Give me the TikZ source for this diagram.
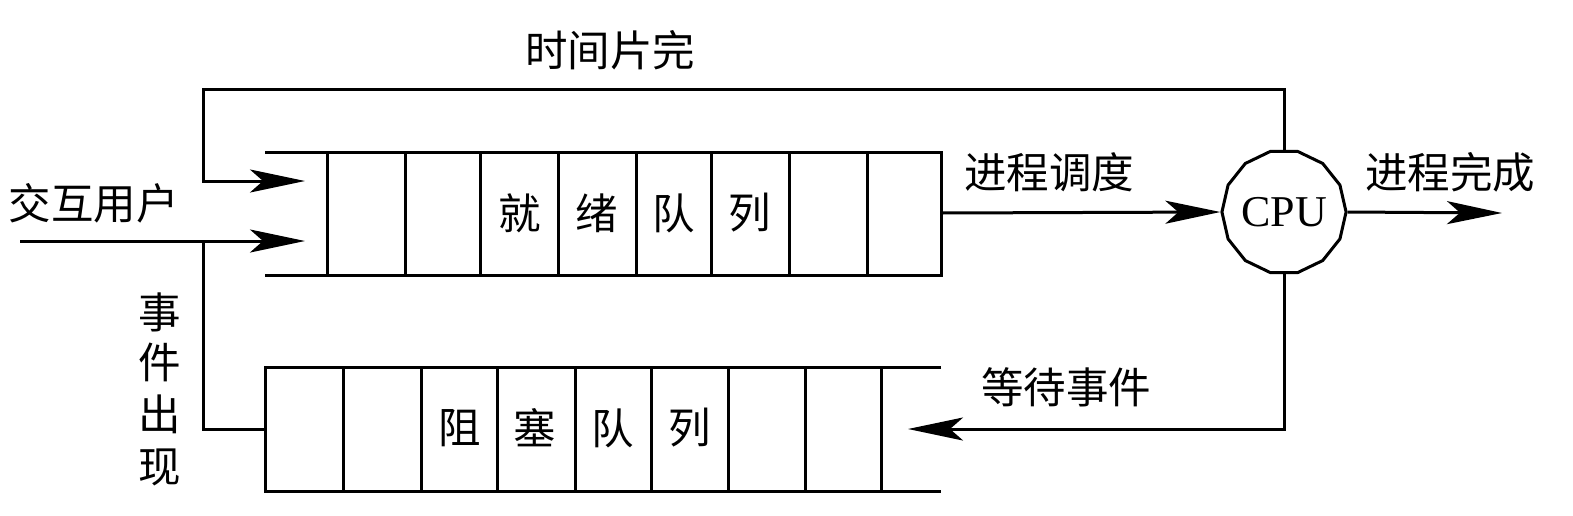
\documentclass[tikz,border=0pt]{standalone}
\usepackage{fontspec}
\setmainfont{Liberation Serif}
\newfontfamily\cjk{Noto Sans CJK SC}
\usetikzlibrary{arrows.meta,shapes.geometric}
\begin{document}
\begin{tikzpicture}[x=1pt,y=-1pt,line width=3pt,
  arr/.style={-{Stealth[length=55pt,width=23pt,inset=13pt]}},
  lbl/.style={inner sep=0pt,font=\cjk\fontsize{42.5}{42.5}\selectfont},
  cpubox/.style={draw,regular polygon,regular polygon sides=14,minimum size=124pt,inner sep=0pt,font=\fontsize{44}{44}\selectfont}]
\useasboundingbox (0,0) rectangle (1573,515);
% ready queue
\draw (265,152) -- (941,152) -- (941,275) -- (265,275);
\foreach \x in {327,405,480,558,636,711,789,867}
  \draw (\x,152) -- (\x,275);
% blocked queue
\draw (941,367) -- (265,367) -- (265,491) -- (941,491);
\foreach \x in {343,421,497,575,651,728,805,881}
  \draw (\x,367) -- (\x,491);
% texts in queues
\node[lbl] (r1) at (520,213) {就};
\node[lbl] (r2) at (597,213) {绪};
\node[lbl] (r3) at (674,213) {队};
\node[lbl] (r4) at (750,213) {列};
\node[lbl] (b1) at (460,428) {阻};
\node[lbl] (b2) at (535,428) {塞};
\node[lbl] (b3) at (613,428) {队};
\node[lbl] (b4) at (690,428) {列};
% CPU
\node[cpubox] (cpu) at (1284,212) {CPU};
% coordinates
\coordinate (tl) at (203,89);
\coordinate (rin1) at (305,181);
\coordinate (rin2) at (305,241);
\coordinate (uin) at (20,241);
\coordinate (ev) at (203,241);
\coordinate (bin) at (265,429);
\coordinate (rout) at (941,213);
\coordinate (done) at (1502,213);
\coordinate (bout) at (908,429);
% connectors
\draw[arr] (cpu.north) |- (tl) |- (rin1);
\draw[arr] (uin) -- (rin2);
\draw (ev) |- (bin);
\draw[arr] (rout) -- (cpu.west);
\draw[arr] (cpu.east) -- (done);
\draw[arr] (cpu.south) |- (bout);
% labels
\node[lbl] (l1) at (610,50) {时间片完};
\node[lbl] (l2) at (94,203) {交互用户};
\node[lbl] (l3) at (1049,172) {进程调度};
\node[lbl] (l4) at (1450,172) {进程完成};
\node[lbl] (l5) at (1066,387) {等待事件};
\node[lbl] (e1) at (160,312) {事};
\node[lbl] (e2) at (160,362) {件};
\node[lbl] (e3) at (160,414) {出};
\node[lbl] (e4) at (160,467) {现};
\end{tikzpicture}
\end{document}
